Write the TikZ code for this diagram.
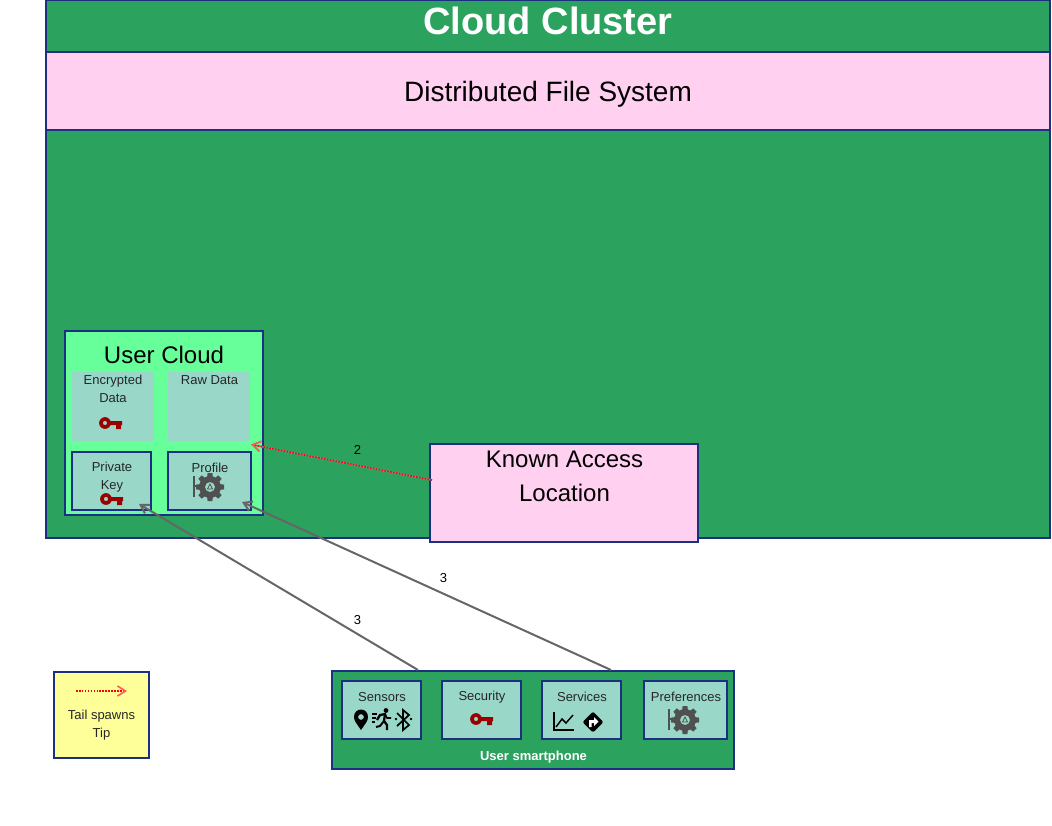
\documentclass[tikz,border=0pt]{standalone}
\usepackage{fontspec}
\setmainfont{Liberation Sans}
\usetikzlibrary{arrows.meta, calc}

\definecolor{clusterGreen}{HTML}{2CA25F}
\definecolor{cloudGreen}{HTML}{66FF99}
\definecolor{cellTeal}{HTML}{99D8C9}
\definecolor{edgeBlue}{HTML}{1C2F80}
\definecolor{filePink}{HTML}{FFD0EF}
\definecolor{noteYellow}{HTML}{FFFF99}
\definecolor{keyRed}{HTML}{990000}
\definecolor{gearGrey}{HTML}{505050}

\tikzset{
  box/.style={draw=edgeBlue, line width=1.5pt, inner sep=0pt, outer sep=0pt, anchor=north west},
  cell/.style={box, fill=cellTeal},
  plaincell/.style={fill=cellTeal, inner sep=0pt, outer sep=0pt, anchor=north west},
  small/.style={font=\fontsize{9.75}{13.5}\selectfont, align=center, inner sep=0pt, text=black!85},
  big/.style={font=\fontsize{18}{25.5}\selectfont, align=center, inner sep=0pt},
  flow/.style={-{Straight Barb[length=6pt,width=7.5pt]}, line width=1.5pt, draw=black!60},
  spawn/.style={-{Straight Barb[length=6pt,width=7.5pt,color=red!65]}, line width=1.2pt, draw=red, densely dotted},
  keyicon/.pic={
    \fill[keyRed, even odd rule] (0,0) circle (4.4pt) (0,0) circle (1.6pt);
    \fill[keyRed] (3,-2) -- (17,-2) -- (17,2) -- (16,2) -- (16,6) -- (11,6) -- (11,2) -- (3,2) -- cycle;
  },
  gearicon/.pic={
    \fill[gearGrey, even odd rule] (0,0) circle (8.2pt) (0,0) circle (3.8pt);
    \foreach \a in {0,45,...,315} {
      \fill[gearGrey, rotate=\a] (9,-3) -- (14,-2.4) -- (14,2.4) -- (9,3) -- cycle;
    }
    \draw[gearGrey, line width=0.6pt] (0,-3) -- (-2.5,2) -- (2.5,2) -- cycle;
    \draw[gearGrey, line width=1pt] (-16,-11) -- (-16,10);
    \draw[gearGrey, line width=1.6pt] (-16,-1) -- (-12,-1);
  },
}

\begin{document}
\begin{tikzpicture}[x=0.75pt, y=-0.75pt]
\useasboundingbox (0,0) rectangle (1052,825);

% Cluster and file system
\node[box, fill=clusterGreen, minimum width=753pt, minimum height=403.5pt] (cluster) at (46,0) {};
\node[box, fill=filePink, minimum width=753pt, minimum height=58.5pt] (dfs) at (46,52) {};
\node[font=\fontsize{28.5}{30}\selectfont\bfseries, text=white, inner sep=0pt] (clustertitle) at (548,21) {Cloud Cluster};
\node[font=\fontsize{21}{25}\selectfont, inner sep=0pt] (dfstitle) at (548,94) {Distributed File System};

% User cloud
\node[box, fill=cloudGreen, minimum width=148.5pt, minimum height=138pt] (usercloud) at (65,331) {};
\node[big] (usertitle) at (164,355) {User Cloud};
\node[plaincell, minimum width=61.5pt, minimum height=51.75pt] (encbox) at (72,372) {};
\node[plaincell, minimum width=61.5pt, minimum height=51.75pt] (rawbox) at (168,372) {};
\node[cell, minimum width=59.25pt, minimum height=43.5pt] (privbox) at (72,452) {};
\node[cell, minimum width=62.25pt, minimum height=43.5pt] (profbox) at (168,452) {};
\node[small] (enctext) at (113,389) {Encrypted\\Data};
\node[small] (rawtext) at (209.5,380) {Raw Data};
\node[small] (privtext) at (112,477.5) {Private\\Key};
\node[small] (proftext) at (210,468) {Profile};
\pic at (105,423) {keyicon};
\pic at (106,499) {keyicon};
\pic at (210,487) {gearicon};

% Known access location
\node[box, fill=filePink, minimum width=201pt, minimum height=73.5pt] (known) at (430,444) {};
\node[big] (knowntext) at (564.5,476) {Known Access\\Location};

% User smartphone
\node[box, fill=clusterGreen, minimum width=301.5pt, minimum height=73.5pt] (phone) at (332,671) {};
\node[cell, minimum width=59.25pt, minimum height=43.5pt] (sensors) at (342,681) {};
\node[cell, minimum width=59.25pt, minimum height=43.5pt] (security) at (442,681) {};
\node[cell, minimum width=59.25pt, minimum height=43.5pt] (services) at (542,681) {};
\node[cell, minimum width=62.25pt, minimum height=43.5pt] (prefs) at (644,681) {};
\node[small] (sensortext) at (382,697) {Sensors};
\node[small] (securitytext) at (482,697) {Security};
\node[small] (servicetext) at (582,697) {Services};
\node[small] (preftext) at (686,697) {Preferences};
\node[small, text=white, font=\fontsize{9.75}{12}\selectfont\bfseries] (phonetext) at (533.5,757) {User smartphone};
\pic at (476,719) {keyicon};
\pic at (685,720) {gearicon};

% Sensor icons
\fill[black, even odd rule] (361,730) .. controls (357,724) and (354,721) .. (354,717) .. controls (354,707) and (368,707) .. (368,717) .. controls (368,721) and (365,724) .. (361,730) -- cycle (361,717) circle (2.2pt);
\fill[black] (386,710.5) circle (1.8pt);
\draw[black, line width=1.7pt, line join=round] (377,720) -- (380,715) -- (385,714) -- (384,721) -- (387,725) -- (387,730);
\draw[black, line width=1.3pt, line join=round] (385,714) -- (387,718) -- (391,718);
\draw[black, line width=1.5pt, line join=round] (384,721) -- (380,726) -- (376,727);
\foreach \ly/\lx in {714/377,718/376,722/375} {
  \draw[black, line width=0.9pt] (372,\ly) -- (\lx,\ly);
}
\draw[black, line width=1.3pt, line join=miter] (397,713) -- (409,725) -- (403,730) -- (403,710) -- (409,715) -- (397,726);
\fill[black] (396,719) circle (1pt) (411,719) circle (1pt);

% Service icons
\draw[black, line width=1.1pt] (554,712) -- (554,730) -- (574,730);
\draw[black, line width=1.1pt] (556,727) -- (562,719) -- (566,723) -- (573,715);
\fill[black, rounded corners=1.5pt] (593,711.5) -- (603.5,722) -- (593,732.5) -- (582.5,722) -- cycle;
\fill[white] (589,727) -- (589,720) -- (594,720) -- (594,717) -- (598.5,721.5) -- (594,726) -- (594,723) -- (591.5,723) -- (591.5,727) -- cycle;

% Legend
\node[box, fill=noteYellow, minimum width=71.25pt, minimum height=64.5pt] (legend) at (54,672) {};
\node[small] (legendtext) at (101.5,725) {Tail spawns\\Tip};
\coordinate (legendtail) at ($(legend.north west)+(22,19)$);
\coordinate (legendtip) at ($(legend.north west)+(73,19)$);
\draw[spawn] (legendtail) -- (legendtip);

% Connectors
\coordinate (knowntail) at ($(known.north west)+(2,36)$);
\coordinate (rawtip) at ($(rawbox.south east)+(1,3.5)$);
\coordinate (phonetailone) at ($(phone.north west)+(86,-1)$);
\coordinate (phonetailtwo) at ($(phone.north west)+(279,-1)$);
\coordinate (privtip) at ($(privbox.south east)+(-12,-6)$);
\coordinate (proftip) at ($(profbox.south east)+(-9,-8)$);
\draw[flow, line width=1.2pt, draw=black!45] (knowntail) -- (rawtip);
\draw[spawn] (knowntail) -- (rawtip);
\draw[flow] (phonetailone) -- (privtip);
\draw[flow] (phonetailtwo) -- (proftip);
\node[small, text=black] (labeltwo) at (357.5,449.5) {2};
\node[small, text=black] (labelthreea) at (357.5,620) {3};
\node[small, text=black] (labelthreeb) at (443.5,578) {3};
\end{tikzpicture}
\end{document}
